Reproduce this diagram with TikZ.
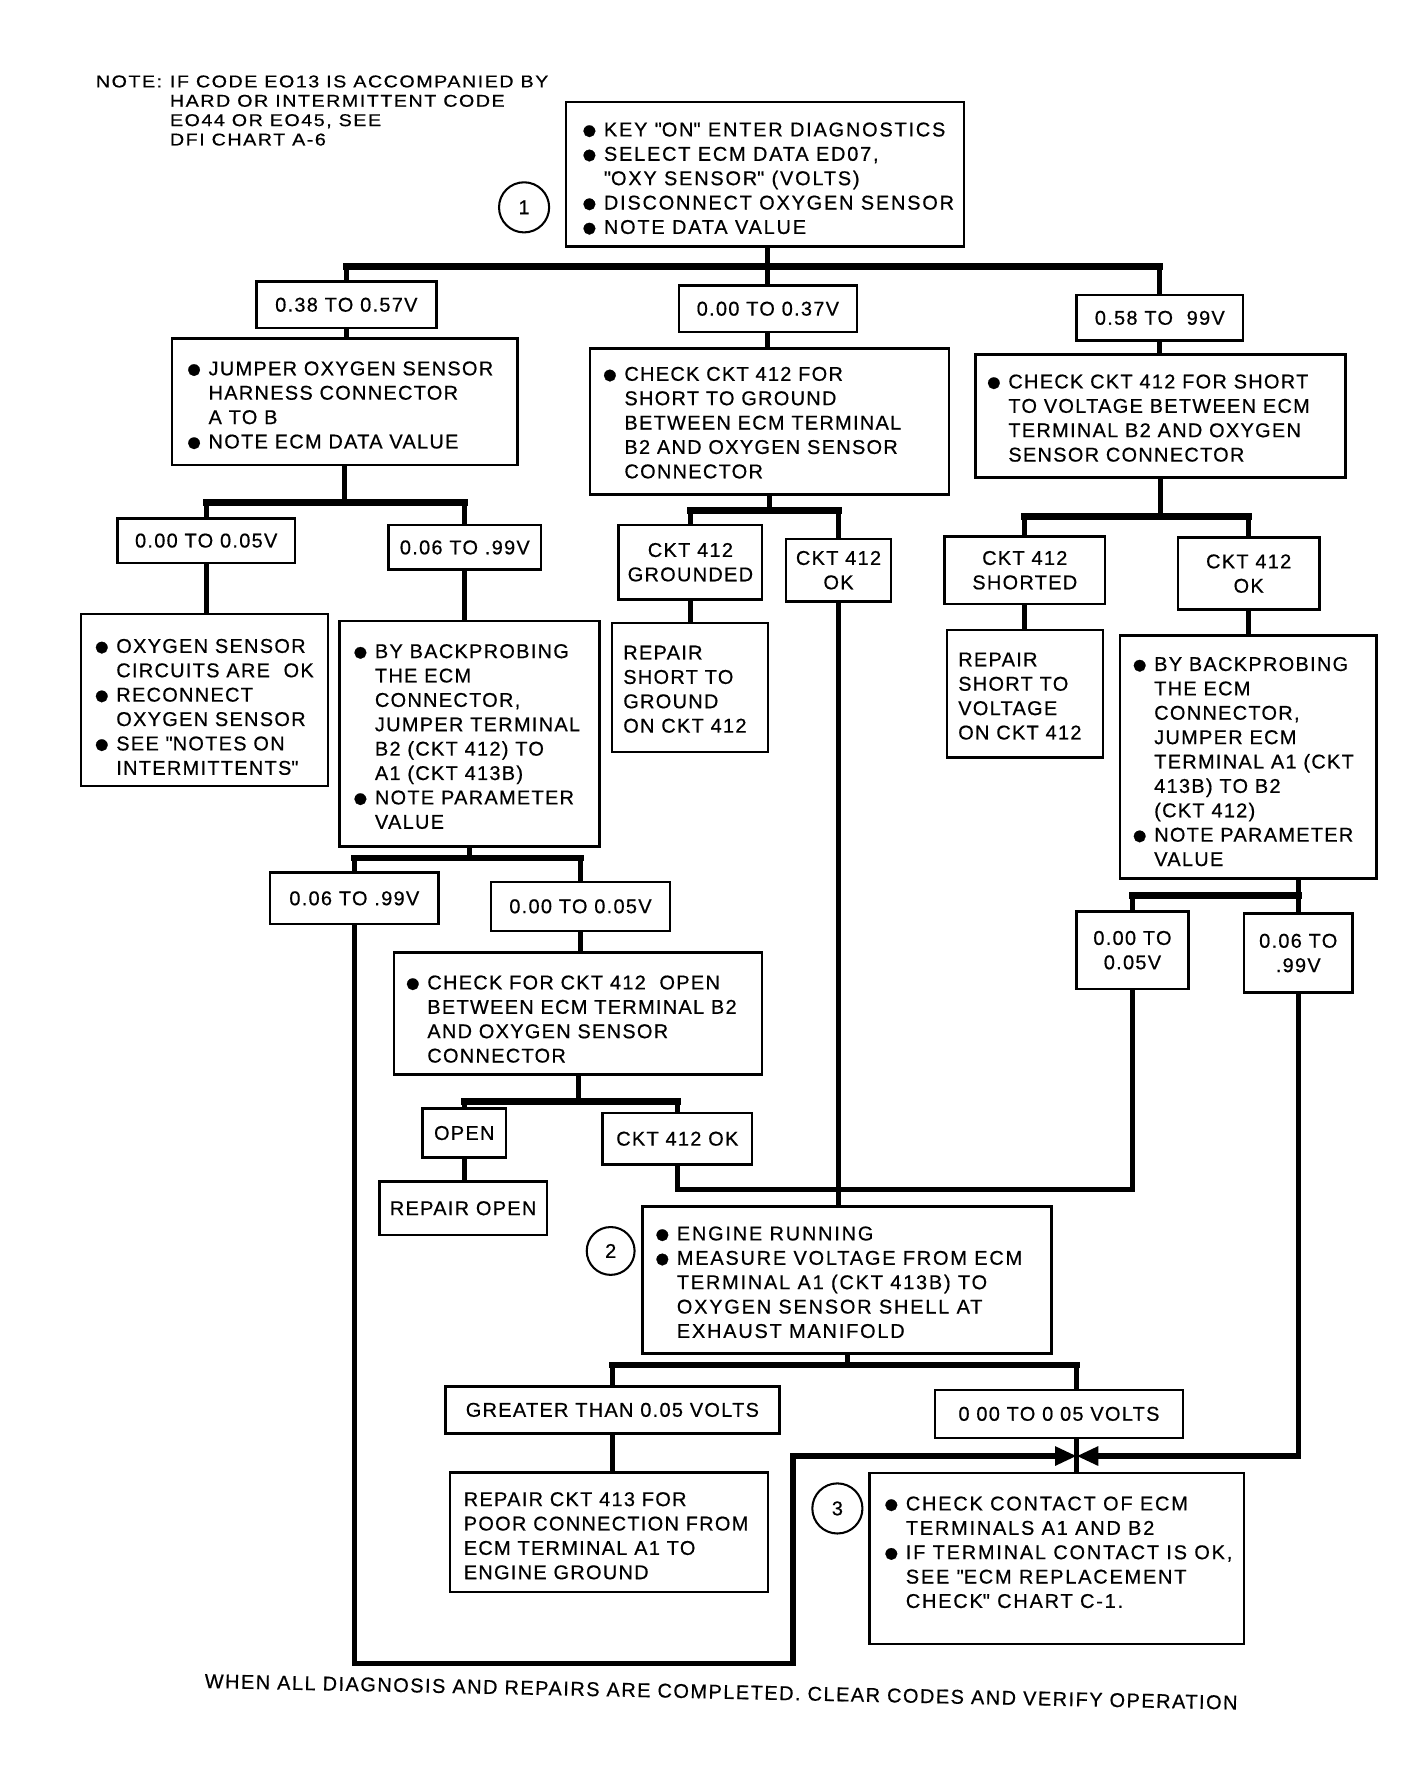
\documentclass[tikz,border=0pt]{standalone}
\usepackage{fontspec}
\setmainfont{Liberation Sans}[LetterSpace=6.5, FakeBold=0.6]
\newfontfamily\notefam{Liberation Sans}[FakeStretch=1.15, LetterSpace=9, FakeBold=0.6]
\usetikzlibrary{arrows.meta,calc}
\newcommand\bl{\makebox[20pt][l]{\raisebox{-2.2pt}{\fontsize{24}{24}\selectfont ●}}}
\newcommand\ind{\hspace*{20pt}}
\newcommand\qq{\textquotedbl}
\newcommand\bodyfont{\fontsize{17.5}{21.4}\selectfont}
\newcommand\widefont{\addfontfeature{LetterSpace=9}}
\newcommand\notefont{\notefam\fontsize{15}{17}\selectfont}
\begin{document}
\begin{tikzpicture}[x=1pt,y=-1pt,
  frame/.style={draw, line width=2.2pt, inner sep=0pt},
  lbl/.style={draw, line width=2.2pt, inner sep=0pt, align=center, font=\bodyfont},
  txt/.style={inner sep=0pt, align=left, font=\bodyfont, anchor=west},
  num/.style={circle, draw, line width=1.8pt, minimum size=44pt, inner sep=0pt, font=\bodyfont},
  conn/.style={line width=4.5pt},
  bar/.style={line width=6pt, line cap=rect},
  tip/.style={-{Triangle[length=19pt,width=16pt]}},
]
\useasboundingbox (0,0) rectangle (1240,1565);

% ---------- note ----------
\node[inner sep=0pt, align=left, font=\notefont, anchor=north west] (note) at (84,66)
 {\makebox[65pt][l]{NOTE:}IF CODE EO13 IS ACCOMPANIED BY\\
  \hspace*{65pt}HARD OR INTERMITTENT CODE\\
  \hspace*{65pt}EO44 OR EO45, SEE\\
  \hspace*{65pt}DFI CHART A-6};

% ---------- box 1 ----------
\node[frame, minimum width=349pt, minimum height=127pt] (b1) at (671.5,153) {};
\node[txt, font=\bodyfont\widefont] (b1t) at ($(b1.west)+(14,4.5)$)
 {\bl KEY \qq ON\qq{} ENTER DIAGNOSTICS\\
  \bl SELECT ECM DATA ED07,\\
  \ind \qq OXY SENSOR\qq{} (VOLTS)\\
  \bl DISCONNECT OXYGEN SENSOR\\
  \bl NOTE DATA VALUE};
\node[num] (c1) at (460,182) {1};

% ---------- level 1 ranges ----------
\node[lbl, minimum width=158pt, minimum height=41pt] (r1a) at (304,267.5) {0.38 TO 0.57V};
\node[lbl, minimum width=156pt, minimum height=41pt] (r1b) at (674,271) {0.00 TO 0.37V};
\node[lbl, minimum width=146pt, minimum height=40pt] (r1c) at (1018,279) {0.58 TO\ \ 99V};

% ---------- level 1 boxes ----------
\node[frame, minimum width=303pt, minimum height=111pt] (bA) at (302.5,352.5) {};
\node[txt] (bAt) at ($(bA.west)+(13,4)$)
 {\bl JUMPER OXYGEN SENSOR\\
  \ind HARNESS CONNECTOR\\
  \ind A TO B\\
  \bl NOTE ECM DATA VALUE};

\node[frame, minimum width=315pt, minimum height=128pt] (bB) at (675.5,370) {};
\node[txt] (bBt) at ($(bB.west)+(11,1)$)
 {\bl CHECK CKT 412 FOR\\
  \ind SHORT TO GROUND\\
  \ind BETWEEN ECM TERMINAL\\
  \ind B2 AND OXYGEN SENSOR\\
  \ind CONNECTOR};

\node[frame, minimum width=325pt, minimum height=108pt] (bC) at (1018.5,365) {};
\node[txt] (bCt) at ($(bC.west)+(10,2)$)
 {\bl CHECK CKT 412 FOR SHORT\\
  \ind TO VOLTAGE BETWEEN ECM\\
  \ind TERMINAL B2 AND OXYGEN\\
  \ind SENSOR CONNECTOR};

% ---------- level 2 ranges ----------
\node[lbl, minimum width=156pt, minimum height=39pt] (rA1) at (181,474.5) {0.00 TO 0.05V};
\node[lbl, minimum width=134pt, minimum height=39pt] (rA2) at (408,480.5) {0.06 TO .99V};
\node[lbl, minimum width=126pt, minimum height=65pt] (rB1) at (606,493.5) {CKT 412\\GROUNDED};
\node[lbl, minimum width=92pt, minimum height=55pt] (rB2) at (736,500.5) {CKT 412\\OK};
\node[lbl, minimum width=141pt, minimum height=59pt] (rC1) at (899.5,500.5) {CKT 412\\SHORTED};
\node[lbl, minimum width=124pt, minimum height=63pt] (rC2) at (1096,503.5) {CKT 412\\OK};

% ---------- level 2 boxes ----------
\node[frame, minimum width=217pt, minimum height=151pt] (bA1) at (179.5,614.5) {};
\node[txt] (bA1t) at ($(bA1.west)+(12,6)$)
 {\bl OXYGEN SENSOR\\
  \ind CIRCUITS ARE~~OK\\
  \bl RECONNECT\\
  \ind OXYGEN SENSOR\\
  \bl SEE \qq NOTES ON\\
  \ind INTERMITTENTS\qq};

\node[frame, minimum width=228pt, minimum height=198pt] (bA2) at (412,644) {};
\node[txt] (bA2t) at ($(bA2.west)+(12,2.5)$)
 {\bl BY BACKPROBING\\
  \ind THE ECM\\
  \ind CONNECTOR,\\
  \ind JUMPER TERMINAL\\
  \ind B2 (CKT 412) TO\\
  \ind A1 (CKT 413B)\\
  \bl NOTE PARAMETER\\
  \ind VALUE};

\node[frame, minimum width=137pt, minimum height=113pt] (bB1) at (605.5,603.5) {};
\node[txt] (bB1t) at ($(bB1.west)+(11,1.5)$)
 {REPAIR\\SHORT TO\\GROUND\\ON CKT 412};

\node[frame, minimum width=137pt, minimum height=112pt] (bC1) at (899.5,609) {};
\node[txt] (bC1t) at ($(bC1.west)+(11,2)$)
 {REPAIR\\SHORT TO\\VOLTAGE\\ON CKT 412};

\node[frame, minimum width=225pt, minimum height=213pt] (bC2) at (1095.5,664.5) {};
\node[txt] (bC2t) at ($(bC2.west)+(11,4)$)
 {\bl BY BACKPROBING\\
  \ind THE ECM\\
  \ind CONNECTOR,\\
  \ind JUMPER ECM\\
  \ind TERMINAL A1 (CKT\\
  \ind 413B) TO B2\\
  \ind (CKT 412)\\
  \bl NOTE PARAMETER\\
  \ind VALUE};

% ---------- level 3 ----------
\node[lbl, minimum width=148pt, minimum height=45pt] (rA2a) at (311,788.5) {0.06 TO .99V};
\node[lbl, minimum width=157pt, minimum height=43pt] (rA2b) at (509.5,795.5) {0.00 TO 0.05V};
\node[lbl, minimum width=98pt, minimum height=68pt] (rC2a) at (994,834) {0.00 TO\\0.05V};
\node[lbl, minimum width=95pt, minimum height=69pt] (rC2b) at (1139.5,836.5) {0.06 TO\\.99V};

\node[frame, minimum width=323pt, minimum height=107pt] (bA2b) at (507.5,889.5) {};
\node[txt] (bA2bt) at ($(bA2b.west)+(10,5)$)
 {\bl CHECK FOR CKT 412~~OPEN\\
  \ind BETWEEN ECM TERMINAL B2\\
  \ind AND OXYGEN SENSOR\\
  \ind CONNECTOR};

\node[lbl, minimum width=73pt, minimum height=43pt] (rOpen) at (407.5,994.5) {OPEN};
\node[lbl, minimum width=131pt, minimum height=45pt] (rOK) at (594.5,999.5) {CKT 412 OK};
\node[lbl, minimum width=147pt, minimum height=47pt] (bRO) at (406.5,1060.5) {REPAIR OPEN};

% ---------- box 2 ----------
\node[frame, minimum width=359pt, minimum height=129pt] (b2) at (743.5,1123.5) {};
\node[txt, font=\bodyfont\widefont] (b2t) at ($(b2.west)+(11,2)$)
 {\bl ENGINE RUNNING\\
  \bl MEASURE VOLTAGE FROM ECM\\
  \ind TERMINAL A1 (CKT 413B) TO\\
  \ind OXYGEN SENSOR SHELL AT\\
  \ind EXHAUST MANIFOLD};
\node[num, minimum size=42pt] (c2) at (536,1098) {2};

\node[lbl, minimum width=293pt, minimum height=41pt] (rG) at (537.5,1237.5) {GREATER THAN 0.05 VOLTS};
\node[lbl, minimum width=218pt, minimum height=42pt] (rL) at (929.5,1241) {0 00 TO 0 05 VOLTS};

\node[frame, minimum width=279pt, minimum height=105pt] (bG) at (534.5,1345) {};
\node[txt] (bGt) at ($(bG.west)+(13,3)$)
 {REPAIR CKT 413 FOR\\
  POOR CONNECTION FROM\\
  ECM TERMINAL A1 TO\\
  ENGINE GROUND};

% ---------- box 3 ----------
\node[frame, minimum width=329pt, minimum height=150pt] (b3) at (927.5,1368) {};
\node[txt, font=\bodyfont\widefont] (b3t) at ($(b3.west)+(13,-5.5)$)
 {\bl CHECK CONTACT OF ECM\\
  \ind TERMINALS A1 AND B2\\
  \bl IF TERMINAL CONTACT IS OK,\\
  \ind SEE \qq ECM REPLACEMENT\\
  \ind CHECK\qq{} CHART C-1.};
\node[num, minimum size=44pt] (c3) at (735,1324) {3};

% ---------- footer ----------
\node[inner sep=0pt, font=\bodyfont\addfontfeature{LetterSpace=7.5}, rotate=-1.2] (foot) at (633,1485)
 {WHEN ALL DIAGNOSIS AND REPAIRS ARE COMPLETED. CLEAR CODES AND VERIFY OPERATION};

% ================= connectors =================
% tree 1
\coordinate (j1) at ($(r1b.north |- b1.south)+(0,16.5)$);
\draw[conn] (r1b.north |- b1.south) -- (r1b.north);
\draw[bar] (r1a.north |- j1) -- (r1c.north |- j1);
\draw[conn] (r1a.north |- j1) -- (r1a.north);
\draw[conn] (r1c.north |- j1) -- (r1c.north);
\draw[conn] (r1a.south) -- (r1a.south |- bA.north);
\draw[conn] (r1b.south) -- (r1b.south |- bB.north);
\draw[conn] (r1c.south) -- (r1c.south |- bC.north);

% tree A
\coordinate (jA) at ($(bA.south)+(0,32)$);
\draw[conn] (bA.south) -- (jA);
\draw[bar] (rA1.north |- jA) -- (rA2.north |- jA);
\draw[conn] (rA1.north |- jA) -- (rA1.north);
\draw[conn] (rA2.north |- jA) -- (rA2.north);
\draw[conn] (rA1.south) -- (rA1.south |- bA1.north);
\draw[conn] (rA2.south) -- (rA2.south |- bA2.north);

% tree A2
\coordinate (jA2) at ($(bA2.south)+(0,9)$);
\draw[conn] (bA2.south) -- (jA2);
\draw[bar] (rA2a.north |- jA2) -- (rA2b.north |- jA2);
\draw[conn] (rA2a.north |- jA2) -- (rA2a.north);
\draw[conn] (rA2b.north |- jA2) -- (rA2b.north);
\draw[conn] (rA2b.south) -- (rA2b.south |- bA2b.north);

% tree A2b
\coordinate (jA3) at ($(bA2b.south)+(0,23)$);
\draw[conn] (bA2b.south) -- (jA3);
\draw[bar] (rOpen.north |- jA3) -- (rOK.north |- jA3);
\draw[conn] (rOpen.north |- jA3) -- (rOpen.north);
\draw[conn] (rOK.north |- jA3) -- (rOK.north);
\draw[conn] (rOpen.south) -- (rOpen.south |- bRO.north);
\draw[conn, line join=miter] (rOK.south) -- ++(0,21) -| (rC2a.south);

% tree B
\coordinate (jB) at ($(bB.south)+(0,13)$);
\draw[conn] (bB.south) -- (jB);
\draw[bar] (rB1.north |- jB) -- (rB2.north |- jB);
\draw[conn] (rB1.north |- jB) -- (rB1.north);
\draw[conn] (rB2.north |- jB) -- (rB2.north);
\draw[conn] (rB1.south) -- (rB1.south |- bB1.north);
\draw[conn] (rB2.south) -- (rB2.south |- b2.north);

% tree C
\coordinate (jC) at ($(bC.south)+(0,33)$);
\draw[conn] (bC.south) -- (jC);
\draw[bar] (rC1.north |- jC) -- (rC2.north |- jC);
\draw[conn] (rC1.north |- jC) -- (rC1.north);
\draw[conn] (rC2.north |- jC) -- (rC2.north);
\draw[conn] (rC1.south) -- (rC1.south |- bC1.north);
\draw[conn] (rC2.south) -- (rC2.south |- bC2.north);

% tree C2
\coordinate (jC2) at ($(rC2b.north |- bC2.south)+(0,14)$);
\draw[conn] (rC2b.north |- bC2.south) -- (rC2b.north);
\draw[bar] (rC2a.north |- jC2) -- (jC2);
\draw[conn] (rC2a.north |- jC2) -- (rC2a.north);

% tree 2
\coordinate (jx) at (945,1278);
\coordinate (j2) at ($(b2.south)+(0,9)$);
\draw[conn] (b2.south) -- (j2);
\draw[bar] (rG.north |- j2) -- (jx |- j2);
\draw[conn] (rG.north |- j2) -- (rG.north);
\draw[conn] (jx |- j2) -- (jx |- rL.north);
\draw[conn] (rG.south) -- (rG.south |- bG.north);
\draw[conn] (jx |- rL.south) -- (jx |- b3.north);

% merge arrows into box 3
\coordinate (lc) at (696,1460);
\draw[conn, line join=miter, tip] (rA2a.south) |- (lc) -- (lc |- jx) -- (jx);
\draw[conn, line join=miter, tip] (rC2b.south) |- (jx);
\end{tikzpicture}
\end{document}
